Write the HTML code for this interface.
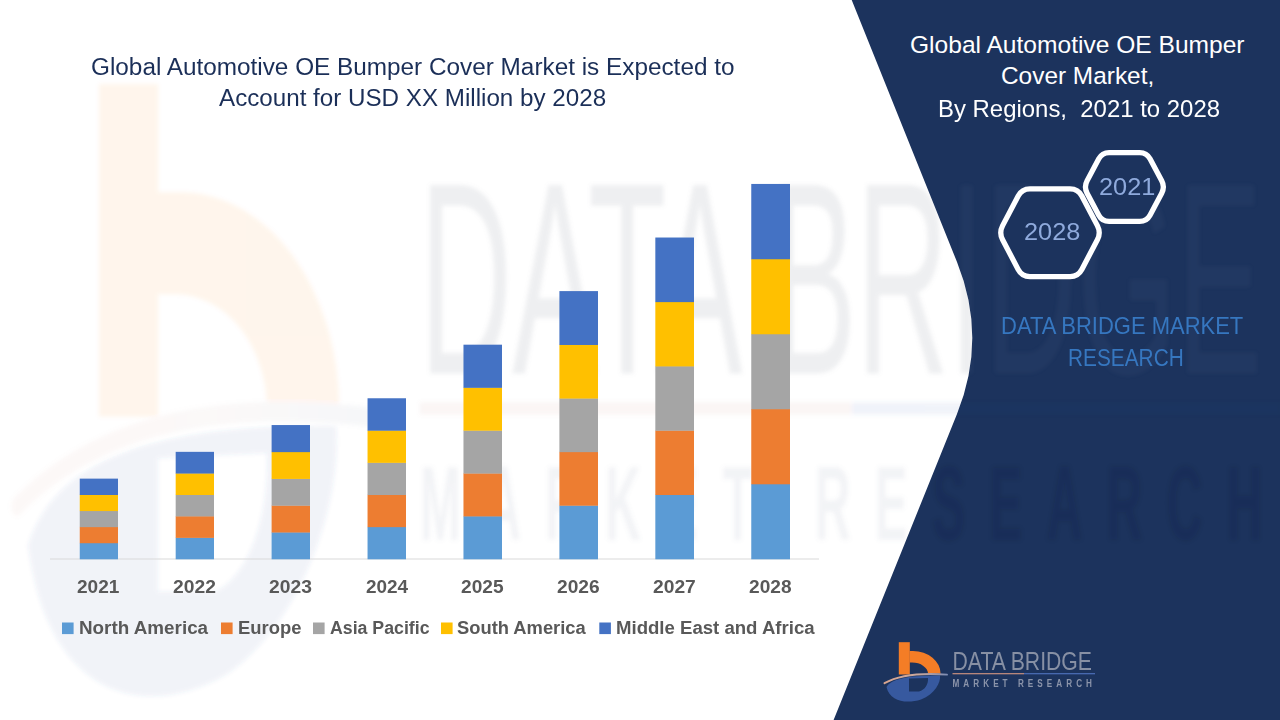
<!DOCTYPE html>
<html lang="en">
<head>
<meta charset="utf-8">
<title>Global Automotive OE Bumper Cover Market</title>
<style>
html,body{margin:0;padding:0;background:#ffffff;}
body{width:1280px;height:720px;overflow:hidden;position:relative;font-family:"Liberation Sans",sans-serif;}
#stage{position:absolute;left:0;top:0;width:1280px;height:720px;overflow:hidden;background:#ffffff;}
#gfx{position:absolute;left:0;top:0;}
.t{position:absolute;white-space:nowrap;transform-origin:0 0;font-family:"Liberation Sans",sans-serif;}
</style>
</head>
<body>
<div id="stage">
<svg id="gfx" width="1280" height="720" viewBox="0 0 1280 720">
<defs>
<linearGradient id="sw" x1="0" y1="0" x2="1" y2="0"><stop offset="0" stop-color="#d9a58f"/><stop offset="0.55" stop-color="#c9a79c"/><stop offset="1" stop-color="#7f8db3"/></linearGradient>
<filter id="bl" x="-5%" y="-5%" width="110%" height="110%"><feGaussianBlur stdDeviation="2.2"/></filter>
<clipPath id="cpW"><path d="M0,0 L851.7,0 L957,262 Q987.6,338 957,414 L833.6,720 L0,720 Z"/></clipPath>
<clipPath id="cpN"><path d="M851.7,0 L957,262 Q987.6,338 957,414 L833.6,720 L1280,720 L1280,0 Z"/></clipPath>
<g id="logoIcon">
  <path d="M1.5,45 C6,37 22,33.2 55,33.4 C56,40 50,52 36,57.5 C22,62 5,60 1.5,45 Z M24,36.5 L24,49.5 L34,49.5 C40,48 43.5,42 43,36 Z" fill="#37599f" fill-rule="evenodd"/>
  <rect x="13.8" y="0.2" width="11" height="32.3" fill="#f47d26"/>
  <path d="M24.60,9 L28,9 A27.6,22.80 0 0 1 55.6,31.8 L43,31.8 A16,11.2 0 0 0 27,20.6 L24.60,20.6 Z" fill="#f47d26"/>
  <path d="M-0.5,41.2 Q20,29.6 62,32.6" fill="none" stroke="url(#sw)" stroke-width="1.9" stroke-linecap="round"/>
</g>
<g id="logoIconW">
  <path d="M1.5,45 C6,37 22,33.2 55,33.4 C56,40 50,52 36,57.5 C22,62 5,60 1.5,45 Z M24,36.5 L24,49.5 L34,49.5 C40,48 43.5,42 43,36 Z" fill="#37599f" fill-rule="evenodd"/>
  <rect x="13.8" y="0.2" width="10.3" height="32.3" fill="#f47d26"/>
  <path d="M23.90,10.7 L28,10.7 A27.6,21.10 0 0 1 55.6,31.8 L43,31.8 A16,11.2 0 0 0 27,20.6 L23.90,20.6 Z" fill="#f47d26"/>
  <path d="M-0.5,41.2 Q20,29.6 62,32.6" fill="none" stroke="url(#sw)" stroke-width="1.9" stroke-linecap="round"/>
</g>
<g id="logoName"><text x="67.5" y="28.3" font-family="'Liberation Sans', sans-serif" font-size="26.6" textLength="139.5" lengthAdjust="spacingAndGlyphs">DATA BRIDGE</text></g>
<g id="logoLine"><rect x="67.5" y="31.1" width="71.5" height="1.2" fill="#c88f7f"/><rect x="139" y="31.1" width="71" height="1.2" fill="#4d6fb8"/></g>
<g id="logoSub"><text transform="translate(67.5,44.5) scale(0.8,1)" x="0" y="0" font-family="'Liberation Sans', sans-serif" font-weight="700" font-size="10.2" textLength="174.4" lengthAdjust="spacing">MARKET  RESEARCH</text></g>
</defs>
<path d="M851.7,0 L957,262 Q987.6,338 957,414 L833.6,720 L1280,720 L1280,0 Z" fill="#1c335d"/>
<g clip-path="url(#cpW)" filter="url(#bl)"><use href="#logoIconW" opacity="0.075" transform="translate(19.65,82) scale(5.75,10.3)"/><use href="#logoName" fill="#8a8e99" opacity="0.14" transform="translate(12,82) scale(6.04,10.3)"/><use href="#logoLine" opacity="0.08" transform="translate(12,82) scale(6.04,10.3)"/><use href="#logoSub" fill="#7d8496" opacity="0.09" transform="translate(12,82) scale(6.04,10.3)"/></g>
<g clip-path="url(#cpN)" filter="url(#bl)"><use href="#logoName" fill="#aab6d4" opacity="0.045" transform="translate(12,82) scale(6.04,10.3)"/><use href="#logoLine" opacity="0.03" transform="translate(12,82) scale(6.04,10.3)"/><use href="#logoSub" fill="#0b1630" opacity="0.11" transform="translate(12,82) scale(6.04,10.3)"/></g>
<rect x="50" y="558.5" width="769" height="1" fill="#d9d9d9"/>
<rect x="79.75" y="542.93" width="38.25" height="16.37" fill="#5b9bd5"/>
<rect x="79.75" y="526.85" width="38.25" height="16.37" fill="#ed7d31"/>
<rect x="79.75" y="510.78" width="38.25" height="16.37" fill="#a5a5a5"/>
<rect x="79.75" y="494.70" width="38.25" height="16.37" fill="#ffc000"/>
<rect x="79.75" y="478.63" width="38.25" height="16.37" fill="#4472c4"/>
<rect x="175.68" y="537.57" width="38.32" height="21.73" fill="#5b9bd5"/>
<rect x="175.68" y="516.14" width="38.32" height="21.73" fill="#ed7d31"/>
<rect x="175.68" y="494.70" width="38.32" height="21.73" fill="#a5a5a5"/>
<rect x="175.68" y="473.27" width="38.32" height="21.73" fill="#ffc000"/>
<rect x="175.68" y="451.84" width="38.32" height="21.73" fill="#4472c4"/>
<rect x="271.61" y="532.21" width="38.39" height="27.09" fill="#5b9bd5"/>
<rect x="271.61" y="505.42" width="38.39" height="27.09" fill="#ed7d31"/>
<rect x="271.61" y="478.63" width="38.39" height="27.09" fill="#a5a5a5"/>
<rect x="271.61" y="451.84" width="38.39" height="27.09" fill="#ffc000"/>
<rect x="271.61" y="425.05" width="38.39" height="27.09" fill="#4472c4"/>
<rect x="367.54" y="526.85" width="38.46" height="32.45" fill="#5b9bd5"/>
<rect x="367.54" y="494.70" width="38.46" height="32.45" fill="#ed7d31"/>
<rect x="367.54" y="462.56" width="38.46" height="32.45" fill="#a5a5a5"/>
<rect x="367.54" y="430.41" width="38.46" height="32.45" fill="#ffc000"/>
<rect x="367.54" y="398.26" width="38.46" height="32.45" fill="#4472c4"/>
<rect x="463.47" y="516.14" width="38.53" height="43.16" fill="#5b9bd5"/>
<rect x="463.47" y="473.27" width="38.53" height="43.16" fill="#ed7d31"/>
<rect x="463.47" y="430.41" width="38.53" height="43.16" fill="#a5a5a5"/>
<rect x="463.47" y="387.54" width="38.53" height="43.16" fill="#ffc000"/>
<rect x="463.47" y="344.68" width="38.53" height="43.16" fill="#4472c4"/>
<rect x="559.40" y="505.42" width="38.60" height="53.88" fill="#5b9bd5"/>
<rect x="559.40" y="451.84" width="38.60" height="53.88" fill="#ed7d31"/>
<rect x="559.40" y="398.26" width="38.60" height="53.88" fill="#a5a5a5"/>
<rect x="559.40" y="344.68" width="38.60" height="53.88" fill="#ffc000"/>
<rect x="559.40" y="291.10" width="38.60" height="53.88" fill="#4472c4"/>
<rect x="655.33" y="494.70" width="38.67" height="64.60" fill="#5b9bd5"/>
<rect x="655.33" y="430.41" width="38.67" height="64.60" fill="#ed7d31"/>
<rect x="655.33" y="366.11" width="38.67" height="64.60" fill="#a5a5a5"/>
<rect x="655.33" y="301.82" width="38.67" height="64.60" fill="#ffc000"/>
<rect x="655.33" y="237.52" width="38.67" height="64.60" fill="#4472c4"/>
<rect x="751.26" y="483.99" width="38.74" height="75.31" fill="#5b9bd5"/>
<rect x="751.26" y="408.98" width="38.74" height="75.31" fill="#ed7d31"/>
<rect x="751.26" y="333.96" width="38.74" height="75.31" fill="#a5a5a5"/>
<rect x="751.26" y="258.95" width="38.74" height="75.31" fill="#ffc000"/>
<rect x="751.26" y="183.94" width="38.74" height="75.31" fill="#4472c4"/>
<rect x="62" y="622.5" width="11.6" height="11.6" fill="#5b9bd5"/>
<rect x="221" y="622.5" width="11.6" height="11.6" fill="#ed7d31"/>
<rect x="313" y="622.5" width="11.6" height="11.6" fill="#a5a5a5"/>
<rect x="441" y="622.5" width="11.6" height="11.6" fill="#ffc000"/>
<rect x="599.3" y="622.5" width="11.6" height="11.6" fill="#4472c4"/>
<path d="M1087.09,193.18 Q1083.80,187.00 1087.09,180.82 L1098.78,158.83 Q1102.07,152.65 1109.07,152.65 L1139.73,152.65 Q1146.73,152.65 1150.02,158.83 L1161.71,180.82 Q1165.00,187.00 1161.71,193.18 L1150.02,215.17 Q1146.73,221.35 1139.73,221.35 L1109.07,221.35 Q1102.07,221.35 1098.78,215.17 Z" fill="#1c335d" stroke="#ffffff" stroke-width="5.3" stroke-linejoin="round"/>
<path d="M1002.62,239.78 Q998.90,232.70 1002.62,225.62 L1018.18,195.93 Q1021.89,188.85 1029.89,188.85 L1070.11,188.85 Q1078.11,188.85 1081.82,195.93 L1097.38,225.62 Q1101.10,232.70 1097.38,239.78 L1081.82,269.47 Q1078.11,276.55 1070.11,276.55 L1029.89,276.55 Q1021.89,276.55 1018.18,269.47 Z" fill="#1c335d" stroke="#ffffff" stroke-width="5.3" stroke-linejoin="round"/>
<g transform="translate(885,642)"><use href="#logoIcon"/><use href="#logoName" fill="#8790a4"/><use href="#logoLine"/><use href="#logoSub" fill="#8b94aa"/></g>
</svg>
<div class="t" style="left:90.78px;top:52.7px;font-size:23.5px;line-height:28.2px;color:#1b2f58;font-weight:400;transform:scaleX(1.035)">Global Automotive OE Bumper Cover Market is Expected to</div>
<div class="t" style="left:218.78px;top:84.3px;font-size:23.5px;line-height:28.2px;color:#1b2f58;font-weight:400;transform:scaleX(1.029)">Account for USD XX Million by 2028</div>
<div class="t" style="left:909.79px;top:30.84px;font-size:23.9px;line-height:28.68px;color:#ffffff;font-weight:400;transform:scaleX(1.0282)">Global Automotive OE Bumper</div>
<div class="t" style="left:1000.79px;top:62.14px;font-size:23.9px;line-height:28.68px;color:#ffffff;font-weight:400;transform:scaleX(1.0213)">Cover Market,</div>
<div class="t" style="left:937.9px;top:94.64px;font-size:23.9px;line-height:28.68px;color:#ffffff;font-weight:400;transform:scaleX(1.0015)">By Regions,&nbsp; 2021 to 2028</div>
<div class="t" style="left:1098.73px;top:172.21px;font-size:24.47px;line-height:29.36px;color:#8faadc;font-weight:400;transform:scaleX(1.0354)">2021</div>
<div class="t" style="left:1023.74px;top:217.36px;font-size:24.61px;line-height:29.53px;color:#8faadc;font-weight:400;transform:scaleX(1.0288)">2028</div>
<div class="t" style="left:1000.77px;top:312.27px;font-size:23.33px;line-height:28.0px;color:#3677c0;font-weight:400;transform:scaleX(0.9425)">DATA BRIDGE MARKET</div>
<div class="t" style="left:1067.65px;top:343.87px;font-size:23.33px;line-height:28.0px;color:#3677c0;font-weight:400;transform:scaleX(0.893)">RESEARCH</div>
<div class="t" style="left:77.48px;top:575.6px;font-size:18.49px;line-height:22.19px;color:#595959;font-weight:700;transform:scaleX(1.0312)">2021</div>
<div class="t" style="left:173.36px;top:575.6px;font-size:18.49px;line-height:22.19px;color:#595959;font-weight:700;transform:scaleX(1.0433)">2022</div>
<div class="t" style="left:269.07px;top:575.6px;font-size:18.49px;line-height:22.19px;color:#595959;font-weight:700;transform:scaleX(1.0417)">2023</div>
<div class="t" style="left:365.86px;top:575.6px;font-size:18.49px;line-height:22.19px;color:#595959;font-weight:700;transform:scaleX(1.024)">2024</div>
<div class="t" style="left:461.47px;top:575.6px;font-size:18.49px;line-height:22.19px;color:#595959;font-weight:700;transform:scaleX(1.0344)">2025</div>
<div class="t" style="left:557.16px;top:575.6px;font-size:18.49px;line-height:22.19px;color:#595959;font-weight:700;transform:scaleX(1.0369)">2026</div>
<div class="t" style="left:653.11px;top:575.6px;font-size:18.49px;line-height:22.19px;color:#595959;font-weight:700;transform:scaleX(1.041)">2027</div>
<div class="t" style="left:748.82px;top:575.6px;font-size:18.49px;line-height:22.19px;color:#595959;font-weight:700;transform:scaleX(1.0342)">2028</div>
<div class="t" style="left:78.79px;top:616.6px;font-size:18.49px;line-height:22.19px;color:#595959;font-weight:700;transform:scaleX(1.0189)">North America</div>
<div class="t" style="left:237.61px;top:616.6px;font-size:18.49px;line-height:22.19px;color:#595959;font-weight:700;transform:scaleX(0.9958)">Europe</div>
<div class="t" style="left:329.54px;top:616.6px;font-size:18.49px;line-height:22.19px;color:#595959;font-weight:700;transform:scaleX(0.9587)">Asia Pacific</div>
<div class="t" style="left:457.1px;top:616.6px;font-size:18.49px;line-height:22.19px;color:#595959;font-weight:700;transform:scaleX(0.992)">South America</div>
<div class="t" style="left:615.81px;top:616.6px;font-size:18.49px;line-height:22.19px;color:#595959;font-weight:700;transform:scaleX(1.0054)">Middle East and Africa</div>
</div>
</body>
</html>
